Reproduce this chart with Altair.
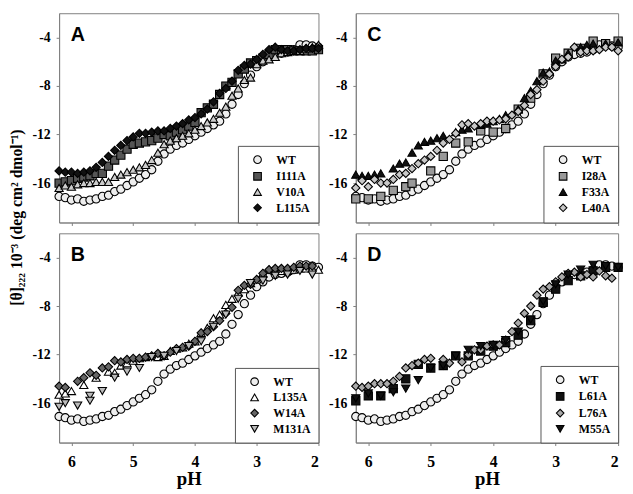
import altair as alt
import pandas as pd

# ---------------- data ----------------
GRID = [6.2, 6.1, 6.0, 5.9, 5.8, 5.7, 5.6, 5.5, 5.4, 5.3, 5.2, 5.1, 5.0, 4.9, 4.8,
        4.7, 4.6, 4.5, 4.4, 4.3, 4.2, 4.1, 4.0, 3.9, 3.8, 3.7, 3.6, 3.5, 3.4, 3.3,
        3.2, 3.1, 3.0, 2.9, 2.8, 2.7, 2.6, 2.5, 2.4, 2.3, 2.2, 2.1, 2.0]

WT = [-17.1, -17.2, -17.4, -17.3, -17.5, -17.4, -17.3, -17.1, -17.0, -16.7, -16.5, -16.2,
      -15.9, -15.6, -15.3, -14.9, -14.2, -13.6, -13.2, -12.9, -12.7, -12.4, -12.1, -11.8,
      -11.5, -11.2, -10.9, -10.3, -9.5, -8.7, -7.8, -7.1, -6.4, -6.0, -5.6, -5.4, -5.3,
      -5.2, -5.0, -4.6, -4.6, -4.7, -4.8]

# Panel A
I111A = [-16.0, -15.9, -15.8, -15.6, -15.5, -15.4, -15.2, -15.2, -14.6, -14.1, -13.7, -13.2,
         -12.8, -12.7, -12.6, -12.5, -12.3, -12.0, -12.1, -11.8, -11.6, -11.3, -11.0, -10.2,
         -9.8, -9.5, -8.7, -8.0, -7.7, -7.0, -6.6, -6.1, -5.9, -5.7, -5.4, -5.0, -5.0, -5.0,
         -5.1, -5.1, -5.1, -5.1, -5.0]
V10A = [-16.4, -16.2, -16.3, -16.1, -16.0, -16.0, -15.9, -15.9, -15.9, -15.5, -15.3, -15.1,
        -14.9, -14.7, -14.5, -14.1, -13.5, -12.8, -12.5, -12.3, -12.1, -11.9, -11.6, -11.3,
        -11.0, -10.7, -10.2, -9.7, -8.8, -8.2, -7.5, -7.3, -6.2, -5.9, -5.8, -5.6, -5.3,
        -5.2, -5.1, -5.1, -4.9, -4.8, -4.6]
L115A = [-15.0, -15.1, -15.1, -15.2, -15.1, -15.0, -14.7, -14.3, -13.8, -13.3, -12.9, -12.5,
         -12.2, -11.9, -11.9, -11.8, -11.7, -11.7, -11.5, -11.3, -11.1, -10.8, -10.6, -10.3,
         -9.9, -9.3, -8.6, -8.2, -7.6, -6.7, -6.3, -6.2, -5.8, -5.4, -5.0, -4.8, -5.0, -5.1,
         -5.1, -5.0, -4.9, -4.9, -4.9]

# Panel C
I28A_PH = [6.2, 6.0, 5.8, 5.6, 5.4, 5.3, 5.0, 4.8, 4.6, 4.4, 4.2, 4.0, 3.8, 3.6, 3.4, 3.2,
           3.0, 2.8, 2.6, 2.4, 2.2, 2.0]
I28A = [-17.3, -17.3, -17.1, -16.6, -16.3, -16.0, -15.0, -13.8, -12.7, -12.6, -11.7, -11.8,
        -11.5, -9.9, -9.0, -7.0, -5.7, -5.3, -4.9, -4.3, -4.5, -4.3]
F33A_PH = [6.2, 6.1, 6.0, 5.9, 5.8, 5.6, 5.5, 5.4, 5.3, 5.2, 5.1, 5.0, 4.9, 4.8, 4.6, 4.5,
           4.4, 4.2, 4.1, 4.0, 3.9, 3.8, 3.6, 3.5, 3.4, 3.3, 3.2, 3.1, 3.0, 2.9, 2.8, 2.6,
           2.5, 2.4, 2.2, 2.0]
F33A = [-15.3, -15.4, -15.4, -15.3, -15.2, -14.8, -14.4, -14.3, -13.5, -12.9, -12.6, -12.5,
        -12.3, -12.1, -11.8, -11.6, -11.5, -11.2, -11.1, -10.9, -10.7, -10.4, -9.9, -9.0,
        -8.4, -7.6, -6.9, -6.8, -5.9, -5.8, -5.3, -4.8, -4.6, -4.5, -4.5, -4.4]
L40A = [-16.4, -15.8, -16.3, -15.7, -16.0, -16.0, -15.7, -15.3, -15.2, -14.8, -14.4, -14.1,
        -13.8, -13.3, -12.7, -12.4, -11.9, -11.2, -11.1, -11.3, -11.1, -10.9, -10.9, -10.8,
        -10.7, -10.4, -10.1, -9.6, -8.7, -8.3, -7.6, -7.0, -6.4, -5.8, -5.6, -4.8, -5.2,
        -5.1, -5.1, -5.0, -4.8, -4.8, -5.1]

# Panel B
L135A_PH = [6.2, 6.1, 6.0, 5.8, 5.6, 5.4, 5.3, 5.2, 5.1, 5.0, 4.9, 4.8, 4.7, 4.6, 4.5, 4.4,
            4.3, 4.2, 4.1, 4.0, 3.9, 3.8, 3.7, 3.6, 3.5, 3.4, 3.3, 3.2, 3.1, 3.0, 2.9, 2.8,
            2.7, 2.6, 2.5, 2.4, 2.3, 2.2, 2.1, 2.0]
L135A = [-15.3, -15.2, -15.0, -14.5, -13.9, -13.4, -13.5, -12.9, -12.7, -12.5, -12.3, -12.2,
         -12.1, -12.2, -12.1, -11.7, -11.5, -11.4, -11.1, -10.9, -10.2, -9.8, -9.0, -8.7,
         -7.9, -7.4, -6.9, -6.6, -6.1, -5.8, -5.3, -5.0, -5.1, -5.1, -5.1, -5.0, -4.9, -4.9,
         -4.9, -5.0]
W14A_PH = [6.2, 6.1, 5.9, 5.8, 5.7, 5.6, 5.5, 5.4, 5.3, 5.2, 5.1, 5.0, 4.9, 4.8, 4.7, 4.6,
           4.5, 4.4, 4.3, 4.2, 4.1, 4.0, 3.9, 3.8, 3.7, 3.6, 3.5, 3.4, 3.3, 3.2, 3.1, 3.0,
           2.9, 2.8, 2.7, 2.6, 2.5, 2.4, 2.3, 2.2, 2.1]
W14A = [-14.6, -14.7, -14.2, -13.9, -13.5, -13.7, -13.1, -13.0, -12.5, -12.6, -12.4, -12.3,
        -12.3, -12.2, -12.1, -11.9, -12.1, -11.8, -11.5, -11.4, -11.3, -10.9, -10.2, -10.1,
        -9.7, -9.2, -8.6, -8.1, -6.7, -6.3, -6.2, -5.8, -5.3, -5.0, -4.9, -4.9, -4.9, -4.8,
        -4.7, -4.7, -4.7]
M131A_PH = [6.2, 6.1, 5.9, 5.7, 5.7, 5.5, 5.3, 5.1, 4.9, 4.7, 4.5, 4.3, 4.1, 3.9, 3.7, 3.5,
            3.3, 3.1, 2.9, 2.7, 2.5, 2.3, 2.1]
M131A = [-16.3, -16.0, -16.2, -15.4, -15.8, -15.0, -13.9, -13.4, -13.1, -12.2, -12.1, -11.7,
         -11.3, -10.9, -9.7, -8.7, -7.4, -6.1, -5.9, -5.5, -5.4, -5.1, -5.4]

# Panel D
L61A_PH = [6.2, 6.0, 5.8, 5.6, 5.4, 5.2, 5.0, 4.8, 4.6, 4.4, 4.2, 4.0, 3.8, 3.6, 3.4, 3.2,
           3.0, 2.8, 2.6, 2.4, 2.2, 2.0]
L61A = [-15.8, -15.4, -15.4, -14.8, -14.0, -12.8, -13.1, -12.9, -12.1, -12.1, -11.7, -11.3,
        -11.0, -10.4, -9.2, -7.7, -6.6, -5.9, -5.5, -5.1, -4.8, -4.8]
L76A_PH = [6.2, 6.1, 6.0, 5.9, 5.8, 5.7, 5.6, 5.5, 5.4, 5.3, 5.2, 5.1, 5.0, 4.8, 4.7, 4.5,
           4.4, 4.3, 4.2, 4.1, 4.0, 3.9, 3.8, 3.7, 3.6, 3.5, 3.4, 3.3, 3.2, 3.1, 3.0, 2.9,
           2.8, 2.7, 2.6, 2.5, 2.4, 2.3, 2.2, 2.1]
L76A = [-14.6, -14.7, -14.6, -14.4, -14.4, -14.4, -14.2, -13.8, -13.1, -12.9, -12.7, -12.4,
        -12.3, -12.4, -12.7, -12.6, -12.0, -11.6, -11.6, -11.3, -11.2, -11.2, -10.8, -10.1,
        -9.4, -8.6, -8.0, -7.1, -6.6, -6.4, -6.0, -5.6, -5.3, -5.2, -5.6, -5.4, -5.6, -5.1,
        -5.5, -5.7]
M55A_PH = [6.2, 6.0, 5.8, 5.6, 5.4, 5.2, 5.0, 4.8, 4.6, 4.4, 4.2, 4.0, 3.8, 3.6, 3.4, 3.2,
           3.0, 2.8, 2.6, 2.4, 2.2, 2.0]
M55A = [-15.6, -15.2, -15.4, -15.1, -14.8, -14.1, -13.1, -12.9, -12.1, -11.6, -11.3, -11.2,
        -10.8, -10.1, -9.1, -7.6, -6.2, -5.4, -5.0, -4.6, -4.7, -4.8]

X_TICKS = [6, 5, 4, 3, 2]
Y_TICKS = [-16, -12, -8, -4]
Y_TITLE = "[θ]₂₂₂ 10⁻³ (deg cm² dmol⁻¹)"

SERIF = "Liberation Serif"
H = 213


def frame(series):
    rows = []
    for name, ph, vals in series:
        for p, v in zip(ph, vals):
            rows.append({"series": name, "pH": p, "val": v})
    return pd.DataFrame(rows)


def panel(letter, series, shapes, fills, bottom, width, ytitle=False):
    df = frame(series)
    names = [s[0] for s in series]
    legend = alt.Legend(
        title=None, orient="bottom-right", offset=0, padding=8,
        strokeColor="#555555", fillColor="white", cornerRadius=0,
        labelFont=SERIF, labelFontWeight="bold", labelFontSize=12, labelColor="black",
        symbolStrokeWidth=1.1, symbolSize=60,
        labelOffset=13, symbolOffset=6, rowPadding=3,
    )
    if bottom:
        xaxis = alt.Axis(values=X_TICKS, labelExpr="'' + datum.value", title="pH",
                         labelFontSize=16, labelPadding=8, titleFont=SERIF,
                         titleFontWeight="bold", titleFontSize=19, titlePadding=1,
                         titleColor="black")
    else:
        xaxis = alt.Axis(values=X_TICKS, labels=False, title=None)
    yaxis = alt.Axis(values=Y_TICKS, labelExpr="'' + datum.value", title=None,
                     labelFontSize=14, labelPadding=6)
    pts = alt.Chart(df).mark_point(
        filled=True, size=70, strokeWidth=1.1, opacity=1
    ).encode(
        x=alt.X("pH:Q", axis=xaxis,
                scale=alt.Scale(domain=[2.0, 6.2], reverse=True, nice=False, zero=False)),
        y=alt.Y("val:Q", axis=yaxis,
                scale=alt.Scale(domain=[-19.25, -2.0], nice=False, zero=False)),
        shape=alt.Shape("series:N", scale=alt.Scale(domain=names, range=shapes), legend=legend),
        fill=alt.Fill("series:N", scale=alt.Scale(domain=names, range=fills), legend=legend),
        stroke=alt.Stroke("series:N",
                          scale=alt.Scale(domain=names, range=["#000000"] * len(names)),
                          legend=legend),
    )
    lab = alt.Chart(pd.DataFrame({"t": [letter]})).mark_text(
        font="Liberation Sans", fontWeight="bold", fontSize=20, color="black",
        align="center", baseline="middle"
    ).encode(text="t:N", x=alt.value(19), y=alt.value(22))
    layers = [pts, lab]
    if ytitle:
        tt = alt.Chart(pd.DataFrame({"t": [Y_TITLE]})).mark_text(
            font=SERIF, fontWeight="bold", fontSize=16, color="black",
            align="center", baseline="middle", angle=270
        ).encode(text="t:N", x=alt.value(-43), y=alt.value(208))
        layers.append(tt)
    return alt.layer(*layers).properties(width=width, height=H)


pA = panel("A", [("WT", GRID, WT), ("I111A", GRID, I111A), ("V10A", GRID, V10A),
                 ("L115A", GRID, L115A)],
           ["circle", "square", "triangle-up", "diamond"],
           ["#eeeeee", "#555555", "#cccccc", "#111111"], False, 264, ytitle=True)
pC = panel("C", [("WT", GRID, WT), ("I28A", I28A_PH, I28A), ("F33A", F33A_PH, F33A),
                 ("L40A", GRID, L40A)],
           ["circle", "square", "triangle-up", "diamond"],
           ["#eeeeee", "#999999", "#111111", "#c8c8c8"], False, 267)
pB = panel("B", [("WT", GRID, WT), ("L135A", L135A_PH, L135A), ("W14A", W14A_PH, W14A),
                 ("M131A", M131A_PH, M131A)],
           ["circle", "triangle-up", "diamond", "triangle-down"],
           ["#eeeeee", "#ffffff", "#666666", "#bbbbbb"], True, 264)
pD = panel("D", [("WT", GRID, WT), ("L61A", L61A_PH, L61A), ("L76A", L76A_PH, L76A),
                 ("M55A", M55A_PH, M55A)],
           ["circle", "square", "diamond", "triangle-down"],
           ["#eeeeee", "#111111", "#aaaaaa", "#111111"], True, 267)

chart = alt.concat(
    pA, pC, pB, pD, columns=2, spacing={"row": 11, "column": 38}, bounds="flush"
).resolve_scale(
    shape="independent", fill="independent", stroke="independent"
).properties(
    padding={"left": 0, "top": 0, "right": 0, "bottom": 0}
).configure_axis(
    labelFont=SERIF, labelFontWeight="bold", labelColor="black",
    domainColor="#808080", tickColor="#808080", tickSize=3, grid=False
).configure_view(
    stroke="#808080", strokeWidth=1
)

chart.save("out.html", embed_options={"renderer": "svg", "actions": False})
